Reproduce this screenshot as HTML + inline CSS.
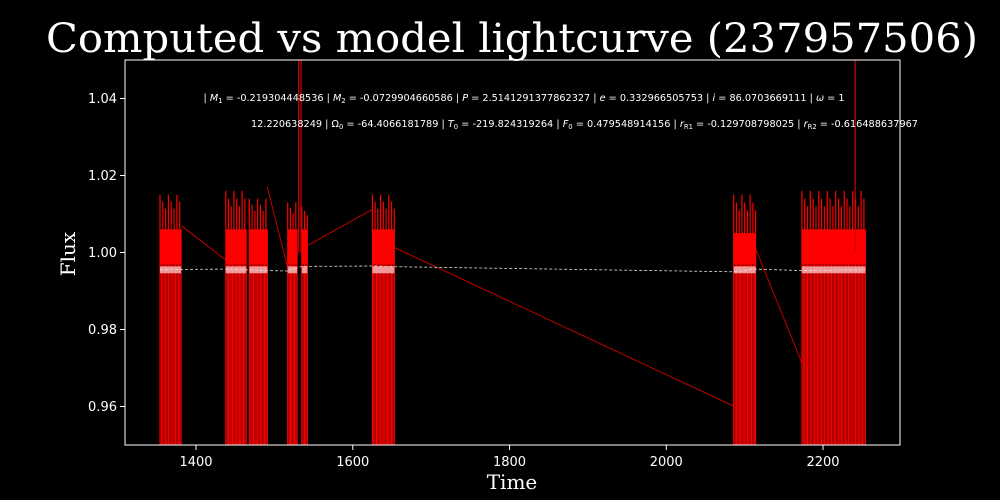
<!DOCTYPE html>
<html><head><meta charset="utf-8"><style>
html,body{margin:0;padding:0;background:#000;}
svg{display:block;}
</style></head><body>
<svg id="chart" width="1000" height="500" xmlns="http://www.w3.org/2000/svg">
<rect width="1000" height="500" fill="#000"/>
<text x="512" y="52" fill="#fff" font-family="DejaVu Serif, serif" font-size="40" text-anchor="middle" textLength="932" lengthAdjust="spacingAndGlyphs">Computed vs model lightcurve (237957506)</text>
<g id="plot"></g>
<text x="524" y="101" fill="#fff" font-family="DejaVu Sans, sans-serif" font-size="10" text-anchor="middle" textLength="641" lengthAdjust="spacingAndGlyphs">| <tspan font-style="italic">M</tspan><tspan font-size="7" dy="2">1</tspan><tspan dy="-2"> = -0.219304448536 | </tspan><tspan font-style="italic">M</tspan><tspan font-size="7" dy="2">2</tspan><tspan dy="-2"> = -0.0729904660586 | </tspan><tspan font-style="italic">P</tspan> = 2.5141291377862327 | <tspan font-style="italic">e</tspan> = 0.332966505753 | <tspan font-style="italic">i</tspan> = 86.0703669111 | <tspan font-style="italic">ω</tspan> = 1</text>
<text x="584.5" y="127" fill="#fff" font-family="DejaVu Sans, sans-serif" font-size="10" text-anchor="middle" textLength="667" lengthAdjust="spacingAndGlyphs">12.220638249 | Ω<tspan font-size="7" dy="2">0</tspan><tspan dy="-2"> = -64.4066181789 | </tspan><tspan font-style="italic">T</tspan><tspan font-size="7" dy="2">0</tspan><tspan dy="-2"> = -219.824319264 | </tspan><tspan font-style="italic">F</tspan><tspan font-size="7" dy="2">0</tspan><tspan dy="-2"> = 0.479548914156 | </tspan><tspan font-style="italic">r</tspan><tspan font-size="7" dy="2">R1</tspan><tspan dy="-2"> = -0.129708798025 | </tspan><tspan font-style="italic">r</tspan><tspan font-size="7" dy="2">R2</tspan><tspan dy="-2"> = -0.616488637967</tspan></text>
<text x="512" y="489" fill="#fff" font-family="DejaVu Serif, serif" font-size="20" text-anchor="middle">Time</text>
<text x="75" y="254" fill="#fff" font-family="DejaVu Serif, serif" font-size="20" text-anchor="middle" transform="rotate(-90 75 254)">Flux</text>
</svg>
<script>
const xTicks = [1400, 1600, 1800, 2000, 2200];
const yTicks = [0.96, 0.98, 1.00, 1.02, 1.04];
const yTickLabels = ['0.96', '0.98', '1.00', '1.02', '1.04'];
const segStart = [1354, 1438, 1468, 1517, 1535, 1625, 2086, 2173];
const segEnd   = [1381, 1464, 1491, 1529, 1542, 1653, 2114, 2254];
const segSpike = [1.015, 1.016, 1.014, 1.013, 1.012, 1.015, 1.015, 1.016];
const segCore  = [1.006, 1.006, 1.006, 1.006, 1.006, 1.006, 1.005, 1.006];
const segLow   = [0.95, 0.95, 0.95, 0.95, 0.95, 0.95, 0.95, 0.95];
const connT1 = [1381, 1491, 1542, 1653, 2114];
const connF1 = [1.007, 1.017, 1.0018, 1.0013, 1.001];
const connT2 = [1438, 1517, 1625, 2086, 2173];
const connF2 = [0.998, 0.996, 1.0112, 0.9601, 0.9713];
const spikeT = [1531, 1534, 2241];
const spikeF = [1.06, 1.06, 1.06];
const modelT = [1354, 1381, 1438, 1491, 1517, 1529, 1535, 1625, 1653, 2086, 2114, 2173, 2254];
const modelF = [0.9955, 0.9956, 0.9957, 0.9953, 0.9952, 0.9960, 0.9964, 0.9965, 0.9963, 0.9950, 0.9957, 0.9953, 0.9955];

const L=125,R=900,T=60,B=445, X0=1309.4, X1=2298.2, Y0=0.95, Y1=1.05;
const xs=t=>L+(t-X0)/(X1-X0)*(R-L);
const ys=f=>B-(f-Y0)/(Y1-Y0)*(B-T);
const NS='http://www.w3.org/2000/svg';
const plot=document.getElementById('plot');
function mk(tag,attrs){const e=document.createElementNS(NS,tag);for(const k in attrs)e.setAttribute(k,attrs[k]);return e;}
const clip=mk('clipPath',{id:'pc'});clip.appendChild(mk('rect',{x:L,y:T,width:R-L,height:B-T}));plot.appendChild(clip);
const g=mk('g',{'clip-path':'url(#pc)'});plot.appendChild(g);

for(let i=0;i<connT1.length;i++){
  const l=mk('line',{x1:xs(connT1[i]),y1:ys(connF1[i]),x2:xs(connT2[i]),y2:ys(connF2[i]),stroke:'#c00000','stroke-width':1});
  
  
  g.appendChild(l);
}
for(let i=0;i<segStart.length;i++){
  const x1=xs(segStart[i]),x2=xs(segEnd[i]);
  const n=Math.max(2,Math.round((x2-x1)/1.4));
  let d='',s='';
  for(let k=0;k<=n;k++){
    const x=(x1+(x2-x1)*k/n).toFixed(1);
    d+=`M${x},${ys(segLow[i])}V${ys(segCore[i])}`;
    if(k%2===0){
      const top=segCore[i]+(segSpike[i]-segCore[i])*((k%6===0)?1:(k%6===2?0.8:0.6));
      s+=`M${x},${ys(segCore[i])}V${ys(top).toFixed(1)}`;
    }
  }
  const p=mk('path',{d:d,stroke:'#ff0000','stroke-width':1.1,fill:'none'});
  
  
  g.appendChild(p);
  const sp=mk('path',{d:s,stroke:'#ff0000','stroke-width':1.2,fill:'none'});
  
  
  g.appendChild(sp);
  const band=mk('rect',{x:x1,y:ys(segCore[i]),width:x2-x1,height:ys(0.997)-ys(segCore[i]),fill:'#ff0000'});
  
  
  g.appendChild(band);
  const mb=mk('rect',{x:x1,y:ys(modelF[0]+0.0009),width:x2-x1,height:ys(modelF[0]-0.0009)-ys(modelF[0]+0.0009),fill:'#ffcccc',opacity:0.75});
  
  
  g.appendChild(mb);
}
for(let i=0;i<spikeT.length;i++){
  const l=mk('line',{x1:xs(spikeT[i]),y1:ys(1.0),x2:xs(spikeT[i]),y2:ys(spikeF[i]),stroke:'#cc0000','stroke-width':1.2});
  
  
  g.appendChild(l);
}
let md='';
for(let i=0;i<modelT.length;i++) md+=(i?'L':'M')+xs(modelT[i]).toFixed(1)+','+ys(modelF[i]).toFixed(1);
const mp=mk('path',{d:md,stroke:'#dddddd','stroke-width':0.8,fill:'none','stroke-dasharray':'3,2'});


g.appendChild(mp);

const frame=mk('rect',{x:L,y:T,width:R-L,height:B-T,fill:'none',stroke:'#fff','stroke-width':1});


plot.appendChild(frame);
xTicks.forEach(t=>{
  const x=xs(t);
  const tk=mk('line',{x1:x,y1:B,x2:x,y2:B+5,stroke:'#fff'});
  
  
  plot.appendChild(tk);
  const tx=mk('text',{x:x,y:B+21,fill:'#fff','font-family':'DejaVu Sans, sans-serif','font-size':13,'text-anchor':'middle'});
  tx.textContent=String(t);
  
  
  plot.appendChild(tx);
});
yTicks.forEach((v,i)=>{
  const y=ys(v);
  const tk=mk('line',{x1:L-5,y1:y,x2:L,y2:y,stroke:'#fff'});
  
  
  plot.appendChild(tk);
  const tx=mk('text',{x:L-8,y:y+4.5,fill:'#fff','font-family':'DejaVu Sans, sans-serif','font-size':13,'text-anchor':'end'});
  tx.textContent=yTickLabels[i];
  
  
  plot.appendChild(tx);
});
</script>
</body></html>
